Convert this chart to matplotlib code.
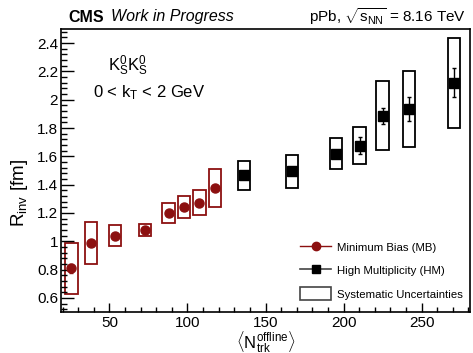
import matplotlib
matplotlib.use("Agg")
import matplotlib.pyplot as plt
from matplotlib.patches import Rectangle
from matplotlib.lines import Line2D
from matplotlib.ticker import MultipleLocator

plt.rcParams['font.family'] = ['Liberation Sans', 'DejaVu Sans']
plt.rcParams['mathtext.fontset'] = 'custom'
plt.rcParams['mathtext.rm'] = 'Liberation Sans'
plt.rcParams['mathtext.it'] = 'Liberation Sans:italic'

# minimum bias
mb_n = [25.6, 38.1, 53.5, 72.9, 87.9, 97.8, 107.7, 117.5]
mb_r = [0.808, 0.989, 1.038, 1.078, 1.200, 1.242, 1.273, 1.376]
mb_stat = [0.03, 0.02, 0.015, 0.012, 0.015, 0.015, 0.015, 0.015]
mb_sys = [0.18, 0.15, 0.074, 0.043, 0.073, 0.075, 0.09, 0.136]

# high multiplicity
hm_n = [136.2, 167.1, 195.3, 210.3, 225.1, 241.9, 270.9]
hm_r = [1.465, 1.494, 1.620, 1.675, 1.888, 1.935, 2.120]
hm_stat = [0.015, 0.025, 0.025, 0.06, 0.056, 0.083, 0.102]
hm_sys = [0.102, 0.118, 0.112, 0.132, 0.244, 0.27, 0.318]

box_w = 8.0
red = '#8c1010'

fig = plt.figure(figsize=(4.73, 3.53), dpi=100)
ax = fig.add_axes([61/473, 1 - 312/353, 409/473, 283/353])

for n, r, s in zip(mb_n, mb_r, mb_sys):
    ax.add_patch(Rectangle((n - box_w/2, r - s), box_w, 2*s, fill=False,
                           edgecolor=red, lw=1.3))
for n, r, s in zip(hm_n, hm_r, hm_sys):
    ax.add_patch(Rectangle((n - box_w/2, r - s), box_w, 2*s, fill=False,
                           edgecolor='black', lw=1.3))

ax.errorbar(mb_n, mb_r, yerr=mb_stat, fmt='o', color=red, ms=6.5,
            elinewidth=1, capsize=1.5)
ax.errorbar(hm_n, hm_r, yerr=hm_stat, fmt='s', color='black', ms=6.5,
            elinewidth=1, capsize=1.5)

ax.set_xlim(19, 281)
ax.set_ylim(0.5, 2.5)
ax.xaxis.set_major_locator(MultipleLocator(50))
ax.xaxis.set_minor_locator(MultipleLocator(10))
ax.yaxis.set_minor_locator(MultipleLocator(0.04))
ax.set_yticks([0.6, 0.8, 1.0, 1.2, 1.4, 1.6, 1.8, 2.0, 2.2, 2.4])
ax.set_yticklabels(['0.6', '0.8', '1', '1.2', '1.4', '1.6', '1.8', '2', '2.2', '2.4'])
ax.tick_params(axis='both', which='both', direction='in', labelsize=11,
               top=False, right=False, width=1)
ax.tick_params(axis='y', which='major', length=9.4, pad=2)
ax.tick_params(axis='y', which='minor', length=4.5)
ax.tick_params(axis='x', which='major', length=6.5, pad=3)
ax.tick_params(axis='x', which='minor', length=3.3)
for sp in ax.spines.values():
    sp.set_linewidth(1.2)

ax.set_xlabel(r'$\langle\mathrm{N}_{\mathrm{trk}}^{\mathrm{offline}}\rangle$',
              fontsize=12, labelpad=-0.5)
ax.set_ylabel(r'$\mathrm{R}_{\mathrm{inv}}$ [fm]', fontsize=13.5)
ax.yaxis.set_label_coords(-0.075, 0.42)

fig.text(68/473, 1 - 17/353, 'CMS', fontsize=11.5, fontweight='bold', va='center')
fig.text(111/473, 1 - 17/353, 'Work in Progress', fontsize=11.5,
         style='italic', va='center')
fig.text(466/473, 1 - 17/353,
         r'pPb, $\sqrt{\mathrm{s}_{\mathrm{NN}}}$ = 8.16 TeV',
         fontsize=11, ha='right', va='center')

ax.text(0.115, 0.87, r'$\mathrm{K}_{\mathrm{S}}^{0}\mathrm{K}_{\mathrm{S}}^{0}$',
        transform=ax.transAxes, fontsize=12, va='center')
ax.text(0.078, 0.775, r'0 < $\mathrm{k}_{\mathrm{T}}$ < 2 GeV',
        transform=ax.transAxes, fontsize=12, va='center')

handles = [
    Line2D([], [], color=red, marker='o', ms=6, lw=1),
    Line2D([], [], color='#444444', marker='s', ms=6, mfc='black', mec='black', lw=1.2),
    Rectangle((0, 0), 1, 1, fill=False, edgecolor='#444444', lw=1.2),
]
labels = ['Minimum Bias (MB)', 'High Multiplicity (HM)', 'Systematic Uncertainties']
ax.legend(handles, labels, loc='lower right', bbox_to_anchor=(1.006, 0.009),
          frameon=False, fontsize=8.2, handlelength=2.7, handleheight=1.4,
          labelspacing=0.9, handletextpad=0.55, borderpad=0.3)

fig.savefig('out.png', dpi=100)
